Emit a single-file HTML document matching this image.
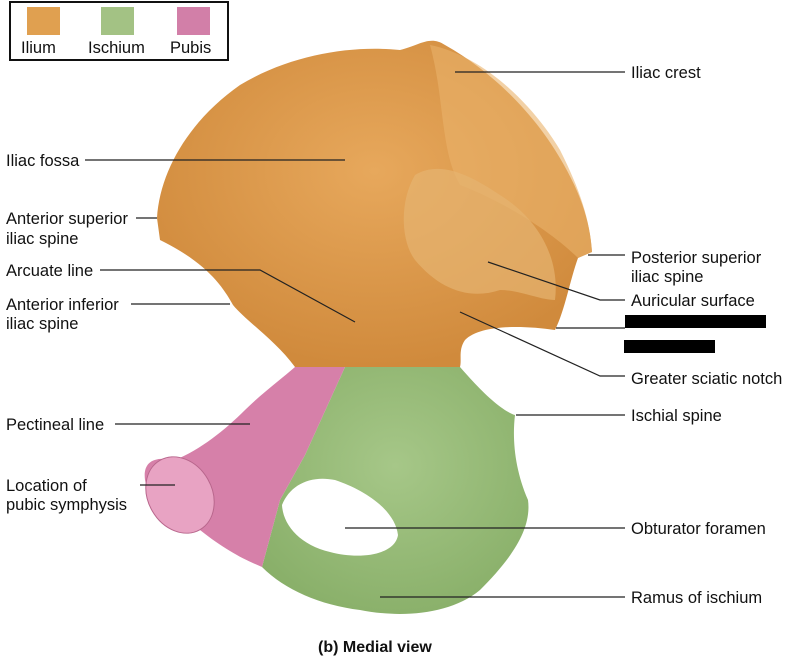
<!DOCTYPE html>
<html><head><style>
body{margin:0;background:#fff;width:800px;height:661px;overflow:hidden;font-family:"Liberation Sans",sans-serif;}
svg text{font-family:"Liberation Sans",sans-serif;font-size:16.5px;fill:#111}
</style></head><body>
<svg width="800" height="661" viewBox="0 0 800 661" xmlns="http://www.w3.org/2000/svg">
<defs>
<radialGradient id="g1" cx="0.5" cy="0.4" r="0.6"><stop offset="0" stop-color="#e7a85c"/><stop offset="1" stop-color="#d08a3c"/></radialGradient>
<radialGradient id="g2" cx="0.5" cy="0.4" r="0.7"><stop offset="0" stop-color="#a6c788"/><stop offset="1" stop-color="#86ad66"/></radialGradient>
</defs>
<rect x="10" y="2" width="218" height="58" fill="#fff" stroke="#111" stroke-width="2"/>
<rect x="27" y="7" width="33" height="28" fill="#e0a050"/>
<rect x="101" y="7" width="33" height="28" fill="#a3c284"/>
<rect x="177" y="7" width="33" height="28" fill="#d27fa8"/>
<text x="21" y="53">Ilium</text><text x="88" y="53">Ischium</text><text x="170" y="53">Pubis</text>
<path d="M157,218 C160,170 190,120 240,85 C290,55 350,45 400,50 C420,45 430,35 445,45 C490,70 530,110 555,150 C580,190 590,220 592,252 L578,258 C570,280 565,310 555,330 C520,325 480,325 465,340 C458,350 462,360 460,367 L295,367 C275,340 245,320 233,305 C222,285 205,262 160,240 Z" fill="url(#g1)"/>
<path d="M430,45 C480,55 530,100 560,150 C580,190 590,220 592,252 L578,258 C550,230 500,200 460,185 C440,150 445,100 430,45Z" fill="#e9b36a" opacity="0.6"/>
<path d="M415,175 C440,160 470,175 500,195 C540,220 560,260 555,300 C540,300 520,290 500,290 C470,300 440,290 415,260 C400,240 400,200 415,175Z" fill="#e6b370" opacity="0.7"/>
<path d="M345,367 L460,367 C480,390 500,410 515,415 C512,440 515,470 528,500 C532,530 510,560 480,590 C450,615 400,618 360,610 C320,605 285,590 262,567 L280,500 L305,455 Z" fill="url(#g2)"/>
<path d="M295,367 L345,367 L305,455 L280,500 L262,567 C245,560 225,550 200,530 C175,515 150,505 145,480 C143,465 150,455 175,460 C200,450 225,430 245,410 C260,395 280,380 295,367Z" fill="#d680a9"/>
<ellipse cx="180" cy="495" rx="32" ry="40" transform="rotate(-30 180 495)" fill="#e8a3c3" stroke="#b8668c"/>
<path d="M282,505 C290,485 310,475 335,480 C365,490 395,510 398,535 C395,555 360,560 330,552 C300,545 283,525 282,505Z" fill="#fff"/>
<g stroke="#222" stroke-width="1.2" fill="none">
<path d="M455,72 H625"/>
<path d="M85,160 H345"/>
<path d="M136,218 H157"/>
<path d="M100,270 H260 L355,322"/>
<path d="M131,304 H230"/>
<path d="M588,255 H625"/>
<path d="M488,262 L600,300 H625"/>
<path d="M556,328 H625"/>
<path d="M460,312 L600,376 H625"/>
<path d="M115,424 H250"/>
<path d="M516,415 H625"/>
<path d="M140,485 H175"/>
<path d="M345,528 H625"/>
<path d="M380,597 H625"/>
</g>
<text x="631" y="78">Iliac crest</text>
<text x="6" y="166">Iliac fossa</text>
<text x="6" y="224">Anterior superior</text><text x="6" y="244">iliac spine</text>
<text x="6" y="276">Arcuate line</text>
<text x="6" y="310">Anterior inferior</text><text x="6" y="329">iliac spine</text>
<text x="631" y="263">Posterior superior</text><text x="631" y="282">iliac spine</text>
<text x="631" y="306">Auricular surface</text>
<rect x="625" y="315" width="141" height="13" fill="#000"/>
<rect x="624" y="340" width="91" height="13" fill="#000"/>
<text x="631" y="384">Greater sciatic notch</text>
<text x="6" y="430">Pectineal line</text>
<text x="631" y="421">Ischial spine</text>
<text x="6" y="491">Location of</text><text x="6" y="510">pubic symphysis</text>
<text x="631" y="534">Obturator foramen</text>
<text x="631" y="603">Ramus of ischium</text>
<text x="318" y="652" style="font-weight:bold;font-size:16px">(b) Medial view</text>
</svg>
</body></html>
